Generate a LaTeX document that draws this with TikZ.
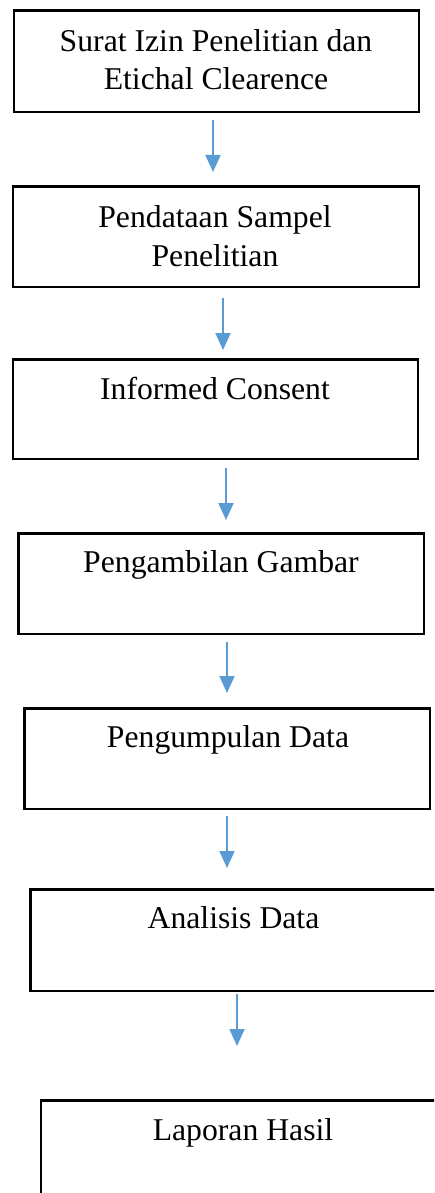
\documentclass[tikz,border=0pt]{standalone}
\usepackage{fontspec}
\setmainfont{Liberation Serif}
\usetikzlibrary{arrows.meta}
\definecolor{arrowblue}{HTML}{5B9BD5}
\begin{document}
\begin{tikzpicture}[x=1pt,y=-1pt,
  stepbox/.style={draw=black,line width=2.4pt,inner sep=0pt},
  steptext/.style={font=\fontsize{31.7}{38}\selectfont,anchor=base,align=center,inner sep=0pt},
  flow/.style={draw=arrowblue,line width=2pt,-{Triangle[width=15pt,length=17pt]}}]
\useasboundingbox (0,0) rectangle (434,1193);
\clip (0,0) rectangle (434,1193);
% boxes
\path[stepbox] (14,10.5) rectangle (419,112) coordinate (b1);
\path[stepbox] (13,186.5) rectangle (419,287) coordinate (b2);
\path[stepbox] (13,359.5) rectangle (418,459) coordinate (b3);
\path[stepbox] (18.5,533.5) rectangle (424,634) coordinate (b4);
\path[stepbox] (24.5,708.5) rectangle (430,809) coordinate (b5);
\path[stepbox] (30.5,889.5) rectangle (445,991) coordinate (b6);
\path[stepbox] (41,1100.5) rectangle (445,1205) coordinate (b7);
% texts
\node[steptext] (t1a) at (216,52) {Surat Izin Penelitian dan};
\node[steptext] (t1b) at (216,90) {Etichal Clearence};
\node[steptext] (t2a) at (215,227) {Pendataan Sampel};
\node[steptext] (t2b) at (215,266) {Penelitian};
\node[steptext] (t3) at (215,399) {Informed Consent};
\node[steptext] (t4) at (221,572) {Pengambilan Gambar};
\node[steptext] (t5) at (228,747) {Pengumpulan Data};
\node[steptext] (t6) at (233.5,928) {Analisis Data};
\node[steptext] (t7) at (243,1140) {Laporan Hasil};
% arrows
\coordinate (a1s) at (213,120); \coordinate (a1e) at (213,172);
\coordinate (a2s) at (223,298); \coordinate (a2e) at (223,350);
\coordinate (a3s) at (226,468); \coordinate (a3e) at (226,520);
\coordinate (a4s) at (227,642); \coordinate (a4e) at (227,693);
\coordinate (a5s) at (227,816); \coordinate (a5e) at (227,868);
\coordinate (a6s) at (237,994); \coordinate (a6e) at (237,1046);
\draw[flow] (a1s) -- (a1e);
\draw[flow] (a2s) -- (a2e);
\draw[flow] (a3s) -- (a3e);
\draw[flow] (a4s) -- (a4e);
\draw[flow] (a5s) -- (a5e);
\draw[flow] (a6s) -- (a6e);
\end{tikzpicture}
\end{document}
